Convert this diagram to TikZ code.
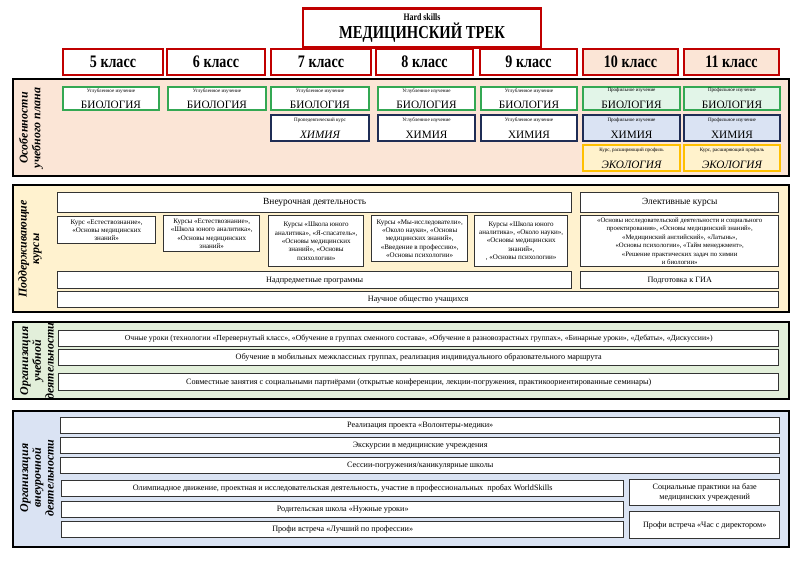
\documentclass[tikz,border=0pt]{standalone}
\usepackage{fontspec}
\setmainfont{Liberation Serif}
\usepackage{graphicx}

\definecolor{trackred}{RGB}{192,0,0}
\definecolor{peach}{RGB}{251,229,214}
\definecolor{biogreen}{RGB}{52,168,83}
\definecolor{biofill}{RGB}{226,245,232}
\definecolor{chemnavy}{RGB}{31,45,85}
\definecolor{chemfill}{RGB}{218,227,243}
\definecolor{ecogold}{RGB}{255,192,0}
\definecolor{ecofill}{RGB}{255,242,204}
\definecolor{creamfill}{RGB}{255,242,207}
\definecolor{sagefill}{RGB}{226,239,218}
\definecolor{skyfill}{RGB}{218,227,243}

\newcommand{\narrow}[1]{\scalebox{0.8}[1]{#1}}
\newcommand{\subj}[2]{{\fontsize{3.6}{4.8}\selectfont #1}\\{\fontsize{8}{8}\selectfont #2}}

\tikzset{
  wh/.style 2 args={minimum width=#1*0.025cm, minimum height=#2*0.025cm},
  box/.style={draw, anchor=north west, inner sep=1pt, align=center},
  grade/.style={box, draw=trackred, line width=1.4pt, font=\bfseries\fontsize{12.5}{13}\selectfont},
  subjbox/.style={box, line width=1.4pt},
  panel/.style={draw=black, line width=1.3pt, anchor=north west, inner sep=0pt},
  item/.style={box, draw=black!80, fill=white, line width=1pt, font=\fontsize{5.8}{6.8}\selectfont},
  course/.style={item, font=\fontsize{5}{6}\selectfont},
  side/.style={rotate=90, align=center, font=\bfseries\itshape\fontsize{8.5}{9}\selectfont}
}

\begin{document}
\begin{tikzpicture}[x=0.025cm, y=-0.025cm]
\useasboundingbox (0,0) rectangle (800,566);

% title and grades
\node[draw=trackred, line width=2pt, wh={238}{34}, align=center] (title) at (422,28)
  {\narrow{\bfseries\fontsize{7}{8}\selectfont Hard skills}\\[1pt]
   \narrow{\bfseries\fontsize{13}{13}\selectfont МЕДИЦИНСКИЙ ТРЕК}};
\foreach \g/\x/\w/\f in {5/62/100/white, 6/166/98/white, 7/270/100/white, 8/375/97/white,
                         9/479/97/white, 10/582/95/peach, 11/683/95/peach}
  \node[grade, fill=\f, wh={\w}{26}] (grade\g) at (\x,48) {\narrow{\g\ класс}};

% panels
\node[panel, fill=peach, wh={776}{97}] (plan) at (12,78) {};
\node[panel, fill=creamfill, wh={776}{127}] (support) at (12,184) {};
\node[panel, fill=sagefill, wh={776}{77}] (study) at (12,321) {};
\node[panel, fill=skyfill, wh={776}{136}] (extra) at (12,410) {};

\node[side] (lblPlan) at (31,128) {Особенности\\учебного плана};
\node[side] (lblSupport) at (30,249) {Поддерживающие\\курсы};
\begin{scope}
  \clip (12,321) rectangle (788,398);
  \node[side] (lblStudy) at (37,361) {Организация\\учебной\\деятельности};
\end{scope}
\node[side] (lblExtra) at (37,478) {Организация\\внеурочной\\деятельности};

% curriculum
\foreach \g/\x/\w/\f/\t in {5/62/96/white/Углубленное изучение, 6/167/98/white/Углубленное изучение,
                            7/270/98/white/Углубленное изучение, 8/377/97/white/Углубленное изучение,
                            9/480/96/white/Углубленное изучение, 10/582/97/biofill/Профильное изучение,
                            11/683/96/biofill/Профильное изучение}
  \node[subjbox, draw=biogreen, fill=\f, wh={\w}{23}] (bio\g) at (\x,86) {\subj{\t}{БИОЛОГИЯ}};
\node[subjbox, draw=chemnavy, fill=white, wh={98}{26}] (chem7) at (270,114)
  {\subj{Пропедевтический курс}{\itshape ХИМИЯ}};
\foreach \g/\x/\w/\f/\t in {8/377/97/white/Углубленное изучение, 9/480/96/white/Углубленное изучение,
                            10/582/97/chemfill/Профильное изучение, 11/683/96/chemfill/Профильное изучение}
  \node[subjbox, draw=chemnavy, fill=\f, wh={\w}{26}] (chem\g) at (\x,114) {\subj{\t}{ХИМИЯ}};
\foreach \g/\x/\w in {10/582/97, 11/683/96}
  \node[subjbox, draw=ecogold, fill=ecofill, wh={\w}{26}] (eco\g) at (\x,144)
    {\subj{Курс, расширяющий профиль}{\itshape ЭКОЛОГИЯ}};

% supporting courses
\node[item, wh={514}{20}, font=\fontsize{6.7}{8}\selectfont] (afterClass) at (57,192) {Внеурочная деятельность};
\node[item, wh={198}{20}, font=\fontsize{6.7}{8}\selectfont] (elective) at (580,192) {Элективные курсы};
\node[course, wh={98}{27}] (course1) at (57,216)
  {Курс «Естествознание»,\\«Основы медицинских\\знаний»};
\node[course, wh={96}{36}] (course2) at (163,215)
  {Курсы «Естествознание»,\\«Школа юного аналитика»,\\«Основы медицинских\\знаний»};
\node[course, wh={95}{51}] (course3) at (268,215)
  {Курсы «Школа юного\\аналитика», «Я-спасатель»,\\«Основы медицинских\\знаний», «Основы\\психологии»};
\node[course, wh={96}{46}] (course4) at (371,215)
  {Курсы «Мы-исследователи»,\\«Около науки», «Основы\\медицинских знаний»,\\«Введение в профессию»,\\«Основы психологии»};
\node[course, wh={93}{51}] (course5) at (474,215)
  {Курсы «Школа юного\\аналитика», «Около науки»,\\«Основы медицинских\\знаний»,\\, «Основы психологии»};
\node[course, wh={198}{51}, font=\fontsize{4.8}{6}\selectfont] (electList) at (580,215)
  {«Основы исследовательской деятельности и социального\\проектирования», «Основы медицинский знаний»,\\«Медицинский английский», «Латынь»,\\«Основы психологии», «Тайм менеджмент»,\\«Решение практических задач по  химии\\и биологии»};
\node[item, wh={514}{17}] (meta) at (57,271) {Надпредметные программы};
\node[item, wh={198}{17}] (exam) at (580,271) {Подготовка к ГИА};
\node[item, wh={721}{16}] (society) at (57,291) {Научное общество учащихся};

% study organisation
\node[item, wh={720}{16}, font=\fontsize{5.5}{6.5}\selectfont] (lessons) at (58,330)
  {Очные уроки (технологии «Перевернутый класс», «Обучение в группах сменного состава», «Обучение в разновозрастных группах», «Бинарные уроки», «Дебаты», «Дискуссии»)};
\node[item, wh={720}{16}] (groups) at (58,349)
  {Обучение в мобильных межклассных группах, реализация индивидуального образовательного маршрута};
\node[item, wh={720}{17}] (partners) at (58,373)
  {Совместные занятия с социальными партнёрами (открытые конференции, лекции-погружения, практикоориентированные семинары)};

% extracurricular organisation
\node[item, wh={719}{16}] (volunteers) at (60,417) {Реализация проекта «Волонтеры-медики»};
\node[item, wh={719}{16}] (tours) at (60,437) {Экскурсии в медицинские учреждения};
\node[item, wh={719}{16}] (sessions) at (60,457) {Сессии-погружения/каникулярные школы};
\node[item, wh={562}{16}] (olymp) at (61,480)
  {Олимпиадное движение, проектная и исследовательская деятельность, участие в профессиональных \ пробах WorldSkills};
\node[item, wh={562}{16}] (parents) at (61,501) {Родительская школа «Нужные уроки»};
\node[item, wh={562}{16}] (best) at (61,521) {Профи встреча «Лучший по профессии»};
\node[item, wh={150}{26}] (practice) at (629,479) {Социальные практики на базе\\медицинских учреждений};
\node[item, wh={150}{27}] (director) at (629,511) {Профи встреча «Час с директором»};
\end{tikzpicture}
\end{document}
